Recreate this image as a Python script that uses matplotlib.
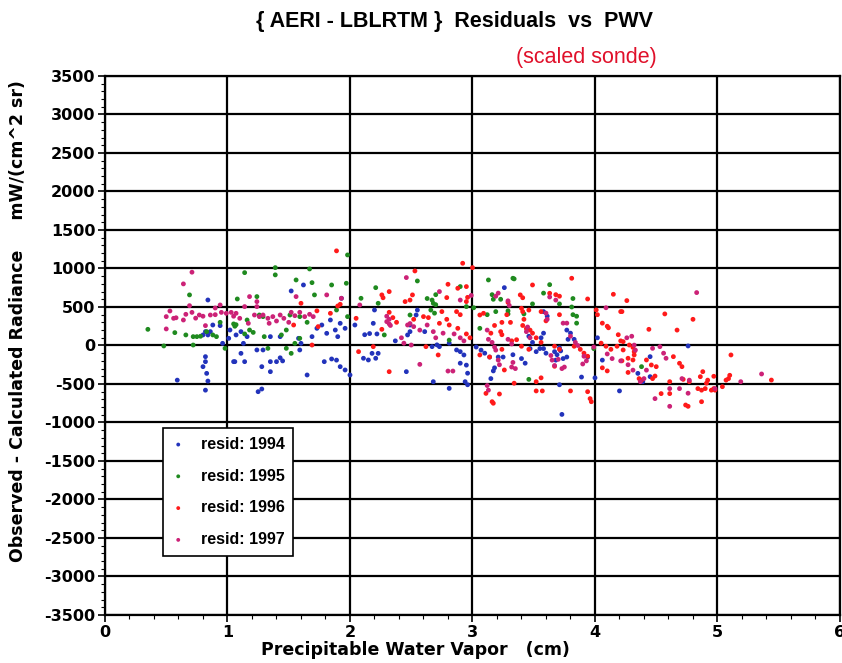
import matplotlib
matplotlib.use("Agg")
import matplotlib.pyplot as plt
from matplotlib.ticker import MultipleLocator

plt.rcParams['font.family'] = ['Liberation Sans', 'DejaVu Sans']
plt.rcParams['axes.unicode_minus'] = False

# resid 1994 (blue)
x94 = [0.84, 0.82, 0.82, 0.80, 0.83, 0.84, 0.82, 0.59, 0.82, 0.84, 0.80, 0.86, 0.88, 0.94, 0.96, 1.01, 1.05,
       1.52, 1.62, 1.93, 1.02, 1.07, 1.11, 1.16, 1.13, 1.11, 1.06, 1.14, 1.24, 1.29, 1.35, 1.28, 1.35, 1.35,
       1.40, 1.45, 1.43, 1.65, 1.25, 1.28, 1.43, 1.58, 1.60, 1.59, 1.69, 1.73, 1.77, 1.81, 1.84, 1.88, 1.92,
       1.96, 1.90, 1.79, 1.85, 1.89, 1.92, 1.96, 2.00, 2.04, 2.11,
       2.20, 2.19, 2.16, 2.22, 2.12, 2.49, 2.49, 2.47, 2.54, 2.55, 2.37, 2.18, 2.21, 2.15, 2.23, 2.46, 2.68,
       2.81, 2.71, 2.73, 2.81, 2.90, 2.87, 2.93, 2.90, 2.95, 2.96, 2.94, 2.96, 3.03, 3.07, 3.10, 3.14, 3.15,
       2.61, 2.67,
       3.26, 3.58, 3.61, 3.58, 3.56, 3.77, 3.80, 3.83, 3.78, 3.46, 3.49, 3.52, 3.55, 3.58, 3.60, 3.67, 3.69,
       3.68, 3.71, 3.72, 3.74, 3.77, 3.33, 3.40, 3.43, 3.21, 3.25, 3.17, 3.18, 3.89, 3.71, 3.73, 3.94, 4.02,
       4.06, 4.00, 3.47,
       4.76, 4.45, 4.35, 4.39, 4.45, 4.20]
y94 = [591, -145, -210, -275, -362, -462, -580, -450, 180, 137, 137, 180, 266, 258, 28, 93, -210,
       708, 786, 613, 201, 137, 180, 115, 28, -102, -210, -210, -58, -58, 115, -275, -340, -210,
       -210, -200, -160, -383, -600, -565, 115, 93, 28, -58, 115, 223, 266, 158, 331, 201, 288,
       223, 115, -210, -175, -190, -275, -318, -383, 266, -166,
       461, 288, 155, 150, 140, 266, 180, 137, 396, 460, 60, -102, -166, -188, -102, -340, -470,
       -557, 8, -15, 30, -80, -58, -123, -230, -255, -360, -470, -510, -20, -60, -100, -150, -430,
       180, -15,
       751, 440, 380, 160, 100, 200, 160, 80, 80, 120, 40, -80, -40, -40, -100, -80, -120,
       -190, -30, -70, -170, -150, -120, -170, -230, -150, -150, -330, -290, -410, -510, -895, -150, 100,
       -190, -420, -40,
       -6, -145, -362, -470, -405, -590]

# resid 1995 (green)
x95 = [0.69, 0.35, 0.48, 0.57, 0.66, 0.72, 0.75, 0.78, 0.83, 0.88, 0.91, 0.94, 0.98, 0.72,
       1.14, 1.39, 1.39, 1.67, 1.56, 1.69, 1.71, 1.85, 1.97, 1.98, 1.08, 1.24, 1.05, 1.07, 1.06, 1.16,
       1.18, 1.21, 1.14, 1.26, 1.29, 1.51, 1.59, 1.65, 1.48, 1.44, 1.30, 1.33, 1.48, 1.52, 1.55, 1.59,
       1.89, 2.09, 1.98,
       2.21, 2.55, 2.23, 2.63, 2.67, 2.70, 2.68, 2.70, 2.66, 2.69, 2.49, 2.28, 2.81, 2.90, 2.95, 3.01,
       3.06, 3.13, 3.19,
       3.33, 3.34, 3.63, 3.58, 3.16, 3.23, 3.17, 3.12, 3.29, 3.29, 3.42, 3.49, 3.71, 3.81, 3.82, 3.85,
       3.85, 3.82, 3.46, 3.99, 4.38]
y95 = [657, 210, -6, 167, 137, 115, 115, 120, 180, 137, 115, 301, -37, 6,
       946, 1011, 917, 994, 851, 816, 657, 786, 808, 1176, 604, 635, 280, 270, 250, 331,
       201, 170, 150, 396, 375, 396, 375, 301, 201, 137, 115, -37, -37, -102, 28, 93,
       461, 613, 375,
       751, 838, 548, 610, 590, 660, 548, 530, 460, 420, 396, 137, 70, 765, 505, 490,
       223, 851, 440,
       873, 865, 790, 680, 660, 600, 600, 400, 450, 410, 410, 540, 540, 500, 400, 380,
       290, 610, -440, -40, -275]

# resid 1996 (red)
x96 = [1.89, 1.60, 1.54, 1.84, 1.92, 1.74, 2.07, 2.05, 1.73, 1.69, 1.90,
       2.92, 3.00, 2.53, 2.80, 2.88, 2.95, 2.32, 2.26, 2.27, 2.51, 2.45, 2.49, 2.79, 2.96, 2.95, 2.75,
       2.87, 2.90, 3.06, 3.09, 2.32, 2.35, 2.38, 2.60, 2.64, 2.73, 2.81, 2.88, 2.95, 2.98, 2.19, 2.62,
       2.72, 2.32, 3.06, 3.14, 3.11, 3.16, 2.26, 2.52, 2.79,
       3.81, 3.49, 3.63, 3.68, 3.71, 3.39, 3.41, 3.94, 4.15, 3.29, 3.40, 3.41, 3.46, 3.71, 3.56, 4.01,
       4.02, 4.06, 4.10, 4.11, 4.21, 3.24, 3.28, 3.31, 3.42, 3.41, 3.44, 3.47, 3.49, 3.60, 3.18, 3.15,
       3.23, 3.24, 3.32, 3.36, 3.40, 3.52, 3.56, 3.46, 3.24, 3.67, 3.71, 3.83, 3.88, 3.91, 3.94, 4.05,
       4.09, 4.13, 4.18, 3.26, 3.34, 3.52, 3.56, 3.52, 3.57, 3.80, 3.94, 3.96, 3.97, 3.22, 3.17, 4.06,
       4.10, 3.67, 4.19, 4.21,
       4.26, 4.22, 4.57, 4.80, 4.67, 4.44, 4.23, 4.27, 4.22, 4.31, 4.32, 4.28, 4.31, 4.32, 4.23, 4.42,
       4.46, 4.50, 4.64, 4.69, 4.71, 4.49, 4.47, 4.36, 4.38, 4.27, 4.61, 4.61, 4.72, 4.77, 4.54, 4.74,
       4.76, 4.87, 4.88, 4.86, 4.91, 4.84, 4.87, 4.90, 4.95, 4.97, 4.98, 4.97, 5.04, 5.07, 5.10, 5.09,
       5.11, 5.44, 4.92]
y96 = [1229, 548, 266, 418, 535, 245, -80, 353, 450, 6, 513,
       1068, 1011, 968, 795, 743, 765, 700, 657, 620, 657, 570, 590, 622, 625, 570, 440,
       440, 400, 396, 418, 431, 362, 301, 375, 362, 288, 266, 223, 150, 100, -15, -15,
       -123, -340, -123, -150, -622, -730, 210, 340, 340,
       873, 786, 678, 660, 640, 657, 620, 604, 665, 560, 483, 440, 460, 400, 440, 461,
       400, 290, 250, 230, 440, 300, 400, 300, 340, 260, 220, 200, 160, 320, 260, 160,
       180, 140, 60, 75, -10, 100, 40, -50, -50, -10, -50, -10, -50, -100, -140, 30,
       -10, -50, -10, -318, -490, -470, -420, -590, -590, -590, -600, -690, -730, -630, -750, -290,
       -330, -270, 140, 60,
       583, 440, 410, 340, 200, 210, -58, -166, -199, -188, -123, 6, -25, -80, 50, -188,
       -253, -275, -145, -231, -275, -397, -430, -430, -450, -350, -470, -625, -440, -470, -625, -773,
       -790, -730, -340, -405, -490, -560, -580, -560, -580, -560, -580, -400, -535, -450, -387, -430,
       -123, -449, -450]

# resid 1997 (magenta)
x97 = [0.71, 0.64, 0.69, 0.53, 0.50, 0.56, 0.58, 0.64, 0.66, 0.71, 0.74, 0.77, 0.80, 0.86, 0.90, 0.94,
       0.95, 0.90, 0.99, 1.03, 0.50, 0.82,
       1.07, 1.05, 1.14, 1.18, 1.24, 1.24, 1.22, 1.26, 1.29, 1.33, 1.37, 1.40, 1.43, 1.46, 1.50, 1.52,
       1.55, 1.59, 1.63, 1.67, 1.70, 1.56, 1.81, 1.93, 2.08, 1.10, 1.17, 1.34,
       2.46, 2.73, 2.99, 2.90, 2.30, 2.32, 2.30, 2.32, 2.33, 2.47, 2.49, 2.52, 2.57, 2.63, 2.68, 2.70,
       2.76, 2.85, 2.90, 2.93, 2.50, 2.44, 2.80, 2.84, 2.57, 2.42,
       3.21, 3.19, 3.29, 3.30, 3.63, 3.68, 4.09, 3.60, 3.61, 3.45, 3.44, 3.47, 3.74, 3.77, 3.12, 3.13,
       3.16, 3.18, 3.19, 3.29, 3.32, 3.80, 3.84, 3.86, 3.91, 3.93, 3.90, 3.70, 3.67, 3.73, 3.75, 3.64,
       3.65, 3.33, 3.32, 3.35, 3.13, 3.12, 3.21, 3.22, 4.10, 4.14, 3.99,
       4.83, 4.26, 4.30, 4.32, 4.21, 4.47, 4.53, 4.56, 4.58, 4.27, 4.31, 4.42, 4.37, 4.40, 4.71, 4.77,
       4.61, 4.69, 4.49, 4.76, 4.61, 4.98, 5.19, 5.36, 4.33]
y97 = [952, 800, 517, 448, 375, 353, 360, 331, 405, 430, 355, 396, 380, 396, 487, 526,
       430, 400, 418, 430, 215, 258,
       418, 380, 505, 635, 570, 505, 396, 375, 396, 353, 375, 318, 396, 353, 301, 431,
       387, 431, 375, 405, 375, 635, 657, 613, 526, 353, 288, 288,
       882, 700, 650, 590, 380, 340, 310, 280, 260, 266, 285, 245, 200, 266, 180, 100,
       160, 150, 100, 60, 6, 30, -332, -332, -245, 100,
       680, 640, 580, 520, 630, 590, 490, 420, 340, 240, 180, 100, 290, 290, 200, 80,
       40, -20, -60, 80, 20, 120, 40, 0, -140, -200, -240, -180, -260, -300, -280, -130,
       -190, -220, -280, -300, -580, -520, -190, -250, -110, -170, -20,
       687, 100, 120, 5, -200, -37, -15, -100, -166, -250, -320, -320, -470, -430, -430, -450,
       -560, -560, -690, -620, -790, -560, -470, -370, -60]

series = [
    (x94, y94, '#2233bb', 'resid: 1994'),
    (x95, y95, '#1f8a1f', 'resid: 1995'),
    (x96, y96, '#ff1a1a', 'resid: 1996'),
    (x97, y97, '#cc2277', 'resid: 1997'),
]

fig = plt.figure(figsize=(8.42, 6.63), dpi=100)
ax = fig.add_axes([0.1247, 0.0724, 0.8729, 0.813])

for xs, ys, col, lab in series:
    ax.scatter(xs, ys, s=12, color=col, edgecolors='none', label=lab, zorder=3)

ax.set_xlim(0, 6)
ax.set_ylim(-3500, 3500)
ax.xaxis.set_major_locator(MultipleLocator(1))
ax.xaxis.set_minor_locator(MultipleLocator(0.2))
ax.yaxis.set_major_locator(MultipleLocator(500))
ax.yaxis.set_minor_locator(MultipleLocator(100))
ax.grid(True, which='major', color='black', linewidth=1.6, zorder=1)
for sp in ax.spines.values():
    sp.set_linewidth(1.6)
ax.tick_params(axis='both', which='major', direction='out', length=5, width=1.2,
               labelsize=11.5, pad=2)
ax.tick_params(axis='both', which='minor', direction='out', length=3, width=0.8)
for lbl in ax.get_xticklabels() + ax.get_yticklabels():
    lbl.set_fontweight('bold')
    lbl.set_family(['DejaVu Sans'])

leg = ax.legend(loc='upper left', bbox_to_anchor=(0.079, 0.347), frameon=True,
                fancybox=False, edgecolor='black', framealpha=1, fontsize=11.5,
                labelspacing=1.05, handlelength=0.8, handletextpad=1.0, borderpad=0.55,
                markerscale=0.8, borderaxespad=0)
leg.get_frame().set_linewidth(1.2)
for t in leg.get_texts():
    t.set_fontweight('bold')

fig.text(0.54, 0.967, '{ AERI - LBLRTM }  Residuals  vs  PWV', ha='center', va='center',
         fontsize=15.5, fontweight='bold')
fig.text(0.697, 0.914, '(scaled sonde)', ha='center', va='center', color='#e0102a',
         fontsize=15.5)
fig.text(0.493, 0.019, 'Precipitable Water Vapor   (cm)', ha='center', va='center',
         fontsize=12.5, fontweight='bold', family=['DejaVu Sans'])
fig.text(0.021, 0.516, 'Observed - Calculated Radiance     mW/(cm^2 sr)', ha='center', va='center',
         rotation=90, fontsize=12.5, fontweight='bold', family=['DejaVu Sans'])

fig.savefig('out.png', dpi=100)
